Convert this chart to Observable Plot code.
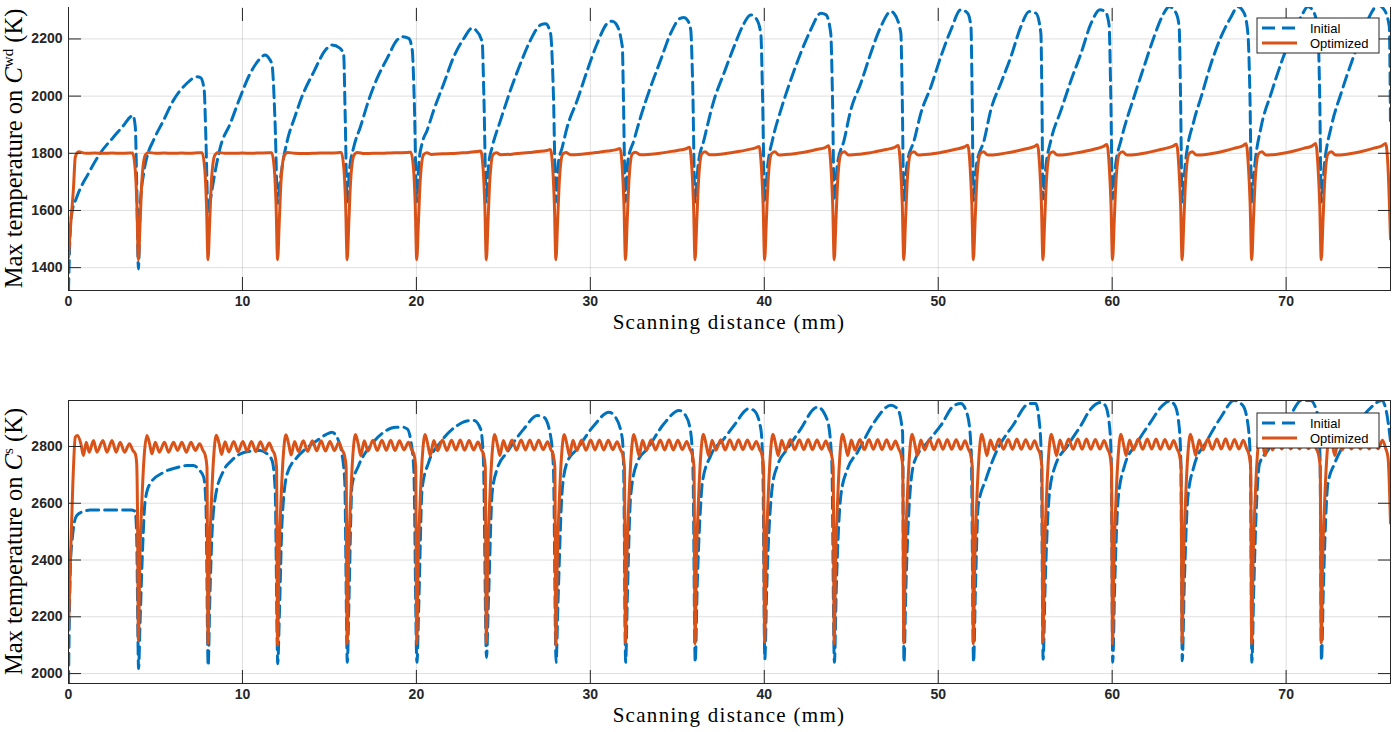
<!DOCTYPE html>
<html><head><meta charset="utf-8">
<script src="https://cdn.jsdelivr.net/npm/d3@7"></script>
<script src="https://cdn.jsdelivr.net/npm/@observablehq/plot@0.6"></script>
<style>
body{margin:0;background:#fff;}
#wrap{width:1393px;height:732px;overflow:hidden;}
svg{display:block;}
</style></head><body><div id="wrap"></div>
<script>
const xTicks = [0,10,20,30,40,50,60,70];
const topYTicks = [1400,1600,1800,2000,2200];
const botYTicks = [2000,2200,2400,2600,2800];
const seriesNames = ["Initial","Optimized"];
const xLabel = "Scanning distance (mm)";

// Top panel: max temperature on C^wd (K)
const topInitial = [
[0,1320],[0.08,1500],[0.19,1590],[0.48,1647],[1.15,1730],[1.82,1800],[2.59,1857],[3.2,1900],[3.55,1927],[3.7,1933],[3.84,1892],[3.92,1700],[4.02,1395],
[4.12,1612],[4.32,1730],[4.51,1787],[4.89,1846],[5.47,1916],[6.04,1986],[6.81,2045],[7.39,2068],[7.6,2064],[7.8,2021],[7.9,1850],[8.02,1595],
[8.15,1635],[8.34,1705],[8.73,1822],[9.3,1904],[9.88,1998],[10.45,2080],[11.0,2130],[11.3,2144],[11.55,2130],[11.7,2109],[11.88,1900],[12.02,1625],
[12.12,1680],[12.3,1760],[12.6,1850],[13.0,1925],[13.4,1995],[14.1,2085],[14.77,2161],[15.15,2179],[15.6,2168],[15.82,2144],[15.9,1950],[16.02,1630],
[16.15,1740],[16.4,1822],[16.78,1892],[17.26,1986],[17.74,2062],[18.32,2132],[18.89,2196],[19.18,2208],[19.56,2202],[19.76,2161],[19.88,1980],[20.02,1630],
[20.15,1770],[20.33,1835],[20.62,1881],[21.0,1951],[21.58,2045],[22.15,2138],[22.73,2202],[23.21,2238],[23.4,2232],[23.78,2190],[23.88,2000],[24.02,1630],
[24.15,1760],[24.36,1822],[24.84,1916],[25.41,2021],[25.99,2115],[26.56,2196],[27.14,2249],[27.43,2253],[27.71,2220],[27.88,2000],[28.02,1630],
[28.15,1760],[28.39,1822],[28.67,1892],[29.25,1986],[29.83,2091],[30.4,2185],[30.98,2255],[31.25,2262],[31.45,2255],[31.84,2173],[31.9,2000],[32.02,1630],
[32.15,1770],[32.51,1846],[32.89,1927],[33.47,2033],[34.04,2126],[34.62,2220],[35.19,2273],[35.38,2275],[35.58,2266],[35.77,2232],[35.88,2050],[36.02,1630],
[36.2,1760],[36.53,1846],[37.11,1986],[37.68,2080],[38.26,2173],[38.74,2243],[39.22,2284],[39.51,2273],[39.8,2220],[39.9,2000],[40.02,1635],
[40.2,1760],[40.47,1846],[40.95,1951],[41.52,2056],[42.09,2150],[42.67,2232],[43.25,2290],[43.54,2285],[43.82,2220],[43.92,2000],[44.02,1635],
[44.2,1760],[44.59,1846],[44.97,1951],[45.55,2045],[46.12,2150],[46.7,2243],[47.28,2296],[47.45,2290],[47.85,2220],[47.93,2000],[48.02,1635],
[48.2,1760],[48.62,1846],[49.0,1940],[49.58,2033],[50.15,2138],[50.73,2232],[51.3,2302],[51.69,2290],[51.88,2243],[51.95,2000],[52.02,1635],
[52.2,1760],[52.64,1846],[53.02,1951],[53.6,2045],[54.18,2138],[54.75,2243],[55.23,2296],[55.62,2290],[55.9,2220],[55.96,2000],[56.02,1640],
[56.2,1760],[56.48,1846],[57.06,1951],[57.64,2056],[58.21,2150],[58.79,2255],[59.3,2302],[59.6,2296],[59.82,2250],[59.92,2000],[60.02,1640],
[60.2,1760],[60.51,1846],[61.26,1998],[61.83,2103],[62.41,2208],[62.98,2291],[63.27,2313],[63.67,2291],[63.85,2243],[63.93,2000],[64.02,1630],
[64.2,1760],[64.71,1916],[65.12,1998],[65.69,2115],[66.26,2208],[66.84,2278],[67.22,2313],[67.58,2291],[67.8,2220],[67.92,2000],[68.02,1630],
[68.2,1760],[68.56,1892],[69.14,2010],[69.71,2115],[70.29,2208],[70.86,2278],[71.25,2313],[71.61,2291],[71.83,2220],[71.93,2000],[72.02,1630],
[72.2,1760],[72.59,1892],[73.16,2010],[73.74,2115],[74.31,2208],[74.89,2290],[75.27,2319],[75.64,2302],[75.93,2243],[76.0,1900]
];

const topOptimized = [
[0,1436],[0.1,1530],[0.29,1682],[0.39,1787],[0.58,1805],[1.0,1800],[1.5,1801],[2.0,1800],[2.5,1801],[3.0,1800],[3.5,1801],[3.68,1801],[3.84,1740],[3.93,1625],[4.02,1428],
[4.12,1565],[4.22,1705],[4.41,1793],[4.6,1803],[5.0,1800],[5.5,1801],[6.0,1800],[6.5,1801],[7.0,1800],[7.5,1802],[7.68,1802],[7.84,1740],[7.93,1625],[8.02,1428],
[8.12,1565],[8.22,1705],[8.41,1793],[8.6,1803],[9.0,1800],[9.5,1800],[10.0,1801],[10.5,1800],[11.0,1801],[11.5,1802],[11.68,1802],[11.84,1740],[11.93,1625],[12.02,1428],
[12.12,1565],[12.22,1705],[12.41,1793],[12.6,1803],[13.0,1800],[13.5,1799],[14.0,1800],[14.5,1801],[15.0,1801],[15.5,1802],[15.68,1803],[15.84,1740],[15.93,1625],[16.02,1428],
[16.12,1565],[16.22,1705],[16.41,1793],[16.6,1803],[17.0,1799],[17.5,1800],[18.0,1800],[18.5,1801],[19.0,1802],[19.5,1803],[19.68,1804],[19.84,1742],[19.93,1625],[20.02,1428],
[20.12,1565],[20.22,1705],[20.41,1795],[20.6,1802],[20.85,1796],[21.5,1798],[22.0,1799],[22.5,1801],[23.0,1803],[23.5,1806],[23.7,1808],[23.84,1742],[23.93,1625],[24.02,1428],
[24.12,1565],[24.22,1705],[24.41,1796],[24.6,1802],[24.85,1795],[25.5,1797],[26.0,1800],[26.5,1803],[27.0,1806],[27.5,1810],[27.7,1813],[27.84,1745],[27.93,1625],[28.02,1428],
[28.12,1565],[28.22,1705],[28.41,1797],[28.6,1803],[28.85,1795],[29.5,1797],[30.0,1800],[30.5,1804],[31.0,1808],[31.5,1813],[31.7,1817],[31.84,1745],[31.93,1625],[32.02,1428],
[32.12,1565],[32.22,1705],[32.41,1798],[32.6,1804],[32.85,1795],[33.5,1797],[34.0,1800],[34.5,1805],[35.0,1810],[35.5,1816],[35.7,1821],[35.84,1745],[35.93,1625],[36.02,1428],
[36.12,1565],[36.22,1705],[36.41,1798],[36.6,1805],[36.85,1795],[37.5,1797],[38.0,1801],[38.5,1806],[39.0,1812],[39.5,1819],[39.7,1824],[39.84,1745],[39.93,1625],[40.02,1428],
[40.12,1565],[40.22,1705],[40.41,1798],[40.6,1805],[40.85,1794],[41.5,1797],[42.0,1801],[42.5,1806],[43.0,1813],[43.5,1820],[43.7,1826],[43.84,1745],[43.93,1625],[44.02,1428],
[44.12,1565],[44.22,1705],[44.41,1798],[44.6,1805],[44.85,1794],[45.5,1797],[46.0,1801],[46.5,1807],[47.0,1813],[47.5,1821],[47.7,1827],[47.84,1745],[47.93,1625],[48.02,1428],
[48.12,1565],[48.22,1705],[48.41,1798],[48.6,1805],[48.85,1794],[49.5,1797],[50.0,1801],[50.5,1807],[51.0,1814],[51.5,1822],[51.7,1828],[51.84,1745],[51.93,1625],[52.02,1428],
[52.12,1565],[52.22,1705],[52.41,1798],[52.6,1805],[52.85,1794],[53.5,1797],[54.0,1802],[54.5,1808],[55.0,1815],[55.5,1823],[55.7,1830],[55.84,1745],[55.93,1625],[56.02,1428],
[56.12,1565],[56.22,1705],[56.41,1798],[56.6,1805],[56.85,1794],[57.5,1797],[58.0,1802],[58.5,1808],[59.0,1815],[59.5,1824],[59.7,1831],[59.84,1745],[59.93,1625],[60.02,1428],
[60.12,1565],[60.22,1705],[60.41,1798],[60.6,1805],[60.85,1794],[61.5,1797],[62.0,1802],[62.5,1809],[63.0,1816],[63.5,1825],[63.7,1832],[63.84,1745],[63.93,1625],[64.02,1428],
[64.12,1565],[64.22,1705],[64.41,1798],[64.6,1805],[64.85,1794],[65.5,1797],[66.0,1802],[66.5,1809],[67.0,1817],[67.5,1826],[67.7,1833],[67.84,1745],[67.93,1625],[68.02,1428],
[68.12,1565],[68.22,1705],[68.41,1798],[68.6,1805],[68.85,1794],[69.5,1797],[70.0,1802],[70.5,1809],[71.0,1817],[71.5,1826],[71.7,1834],[71.84,1745],[71.93,1625],[72.02,1428],
[72.12,1565],[72.22,1705],[72.41,1798],[72.6,1805],[72.85,1794],[73.5,1797],[74.0,1802],[74.5,1809],[75.0,1817],[75.5,1826],[75.72,1834],[75.85,1760],[76.0,1500]
];

// Bottom panel: max temperature on C^s (K)
const botInitial = [
[0,1965],[0.05,2200],[0.12,2400],[0.19,2458],[0.3,2520],[0.48,2557],[0.8,2570],[1.25,2576],[2.0,2576],[3.0,2576],[3.6,2576],[3.84,2572],[3.92,2480],[4.03,2018],
[4.1,2150],[4.22,2375],[4.41,2610],[4.7,2670],[5.47,2709],[6.2,2725],[6.81,2733],[7.19,2733],[7.5,2718],[7.77,2692],[7.9,2600],[8.03,2028],
[8.12,2250],[8.25,2493],[8.44,2621],[8.92,2715],[9.4,2752],[9.88,2774],[10.5,2784],[11.03,2786],[11.4,2775],[11.7,2751],[11.88,2650],[12.03,2035],
[12.12,2200],[12.28,2539],[12.57,2704],[13.14,2762],[13.7,2795],[14.29,2821],[14.8,2842],[15.15,2850],[15.44,2832],[15.7,2780],[15.88,2680],[16.03,2040],
[16.12,2250],[16.3,2663],[16.68,2733],[17.36,2803],[18.12,2850],[18.8,2868],[19.2,2868],[19.47,2862],[19.66,2827],[19.85,2720],[20.03,2040],
[20.14,2250],[20.33,2652],[20.71,2745],[21.39,2815],[22.35,2874],[22.9,2890],[23.3,2892],[23.69,2862],[23.85,2760],[24.03,2057],
[24.14,2250],[24.36,2639],[24.65,2722],[25.22,2780],[26.18,2862],[26.95,2909],[27.33,2903],[27.71,2839],[27.88,2720],[28.03,2040],
[28.14,2250],[28.39,2652],[28.67,2745],[29.25,2792],[30.21,2874],[31.07,2921],[31.45,2903],[31.84,2827],[31.92,2700],[32.03,2040],
[32.12,2250],[32.32,2627],[32.7,2745],[33.28,2792],[34.23,2880],[35.1,2927],[35.48,2909],[35.77,2850],[35.9,2720],[36.03,2040],
[36.14,2300],[36.34,2592],[36.44,2674],[36.92,2768],[37.68,2827],[38.26,2874],[39.12,2933],[39.41,2927],[39.8,2862],[39.92,2720],[40.03,2051],
[40.14,2300],[40.47,2663],[40.76,2733],[41.33,2792],[42.1,2862],[42.86,2933],[43.06,2939],[43.63,2892],[43.88,2750],[44.03,2040],
[44.14,2300],[44.4,2627],[44.79,2722],[45.36,2780],[46.32,2886],[47.28,2945],[47.66,2933],[47.95,2850],[48.03,2040],
[48.14,2300],[48.33,2592],[48.62,2745],[49.39,2815],[50.15,2874],[50.92,2945],[51.3,2951],[51.69,2909],[51.9,2780],[52.03,2040],
[52.14,2300],[52.3,2592],[52.75,2686],[53.33,2780],[54.29,2874],[55.24,2951],[55.6,2951],[55.8,2892],[55.93,2760],[56.03,2051],
[56.14,2300],[56.38,2627],[56.67,2722],[57.44,2803],[58.2,2874],[58.78,2933],[59.35,2955],[59.6,2945],[59.85,2870],[59.95,2740],[60.03,2040],
[60.14,2300],[60.35,2620],[60.7,2730],[61.4,2810],[62.2,2885],[62.9,2945],[63.3,2960],[63.6,2945],[63.85,2870],[63.95,2740],[64.03,2045],
[64.14,2300],[64.35,2620],[64.7,2730],[65.4,2815],[66.25,2903],[67.0,2962],[67.5,2945],[67.8,2880],[67.95,2740],[68.03,2040],
[68.14,2300],[68.3,2600],[68.47,2739],[68.95,2786],[69.5,2845],[70.29,2915],[70.86,2962],[71.4,2962],[71.8,2915],[71.95,2760],[72.03,2045],
[72.14,2300],[72.4,2669],[72.78,2739],[73.35,2810],[74.1,2880],[74.9,2939],[75.5,2962],[75.75,2927],[76.0,2820]
];

const botOptimized = [
[0,2152],[0.1,2375],[0.25,2669],[0.39,2833],[0.52,2839],[0.71,2810],[0.86,2768],[1.02,2815],[1.19,2780],[1.44,2821],[1.63,2780],[1.98,2821],[2.21,2780],[2.5,2821],[2.74,2780],[2.97,2815],[3.22,2780],[3.51,2810],[3.7,2786],[3.84,2774],[3.92,2740],[3.97,2550],[4.02,2116],
[4.1,2400],[4.22,2610],[4.36,2774],[4.51,2839],[4.66,2810],[4.8,2774],[4.99,2815],[5.22,2780],[5.52,2815],[5.75,2780],[6.04,2815],[6.27,2786],[6.52,2815],[6.77,2780],[7.04,2815],[7.29,2786],[7.54,2810],[7.73,2786],[7.86,2770],[7.96,2727],[8.02,2105],
[8.1,2400],[8.22,2610],[8.36,2776],[8.5,2840],[8.66,2810],[8.8,2772],[9.0,2817],[9.22,2781],[9.5,2818],[9.75,2782],[10.02,2818],[10.27,2784],[10.52,2818],[10.77,2782],[11.03,2817],[11.29,2785],[11.54,2812],[11.73,2786],[11.86,2770],[11.96,2727],[12.02,2100],
[12.1,2400],[12.22,2615],[12.36,2778],[12.5,2841],[12.66,2808],[12.8,2770],[13.0,2818],[13.22,2782],[13.5,2820],[13.75,2783],[14.02,2820],[14.27,2785],[14.52,2820],[14.77,2784],[15.03,2818],[15.29,2786],[15.54,2814],[15.73,2787],[15.86,2770],[15.96,2727],[16.02,2105],
[16.1,2400],[16.22,2615],[16.36,2780],[16.5,2842],[16.66,2808],[16.8,2768],[17.0,2820],[17.22,2784],[17.5,2822],[17.75,2786],[18.02,2822],[18.27,2787],[18.52,2822],[18.77,2786],[19.03,2820],[19.29,2788],[19.54,2815],[19.73,2788],[19.86,2772],[19.96,2727],[20.02,2105],
[20.1,2400],[20.22,2615],[20.36,2780],[20.5,2842],[20.66,2806],[20.8,2768],[21.0,2821],[21.22,2785],[21.5,2823],[21.75,2786],[22.02,2822],[22.27,2788],[22.52,2823],[22.77,2787],[23.03,2821],[23.29,2788],[23.54,2816],[23.73,2789],[23.86,2772],[23.96,2727],[24.02,2108],
[24.1,2400],[24.22,2615],[24.36,2780],[24.5,2842],[24.66,2806],[24.8,2768],[25.0,2821],[25.22,2786],[25.5,2823],[25.75,2787],[26.02,2823],[26.27,2788],[26.52,2823],[26.77,2788],[27.03,2822],[27.29,2789],[27.54,2817],[27.73,2789],[27.86,2772],[27.96,2727],[28.02,2100],
[28.1,2400],[28.22,2615],[28.36,2780],[28.5,2842],[28.66,2806],[28.8,2768],[29.0,2822],[29.22,2786],[29.5,2823],[29.75,2787],[30.02,2823],[30.27,2788],[30.52,2823],[30.77,2788],[31.03,2822],[31.29,2789],[31.54,2817],[31.73,2789],[31.86,2772],[31.96,2727],[32.02,2108],
[32.1,2400],[32.22,2615],[32.36,2780],[32.5,2842],[32.66,2806],[32.8,2768],[33.0,2822],[33.22,2786],[33.5,2824],[33.75,2788],[34.02,2823],[34.27,2788],[34.52,2824],[34.77,2788],[35.03,2822],[35.29,2789],[35.54,2818],[35.73,2790],[35.86,2772],[35.96,2727],[36.02,2105],
[36.1,2400],[36.22,2615],[36.36,2780],[36.5,2843],[36.66,2806],[36.8,2768],[37.0,2822],[37.22,2787],[37.5,2824],[37.75,2788],[38.02,2824],[38.27,2789],[38.52,2824],[38.77,2789],[39.03,2823],[39.29,2790],[39.54,2818],[39.73,2790],[39.86,2772],[39.96,2727],[40.02,2110],
[40.1,2400],[40.22,2615],[40.36,2780],[40.5,2843],[40.66,2806],[40.8,2768],[41.0,2822],[41.22,2787],[41.5,2825],[41.75,2789],[42.02,2824],[42.27,2789],[42.52,2825],[42.77,2789],[43.03,2823],[43.29,2790],[43.54,2819],[43.73,2790],[43.86,2772],[43.96,2727],[44.02,2105],
[44.1,2400],[44.22,2615],[44.36,2780],[44.5,2843],[44.66,2806],[44.8,2768],[45.0,2823],[45.22,2787],[45.5,2825],[45.75,2789],[46.02,2825],[46.27,2790],[46.52,2825],[46.77,2789],[47.03,2824],[47.29,2790],[47.54,2819],[47.73,2791],[47.86,2772],[47.96,2727],[48.02,2108],
[48.1,2400],[48.22,2615],[48.36,2780],[48.5,2843],[48.66,2806],[48.8,2768],[49.0,2823],[49.22,2788],[49.5,2825],[49.75,2789],[50.02,2825],[50.27,2790],[50.52,2825],[50.77,2790],[51.03,2824],[51.29,2790],[51.54,2820],[51.73,2791],[51.86,2772],[51.96,2727],[52.02,2105],
[52.1,2400],[52.22,2615],[52.36,2780],[52.5,2843],[52.66,2806],[52.8,2768],[53.0,2823],[53.22,2788],[53.5,2826],[53.75,2790],[54.02,2825],[54.27,2790],[54.52,2826],[54.77,2790],[55.03,2824],[55.29,2791],[55.54,2820],[55.73,2791],[55.86,2772],[55.96,2727],[56.02,2110],
[56.1,2400],[56.22,2615],[56.36,2780],[56.5,2843],[56.66,2806],[56.8,2768],[57.0,2823],[57.22,2788],[57.5,2826],[57.75,2790],[58.02,2826],[58.27,2790],[58.52,2826],[58.77,2790],[59.03,2825],[59.29,2791],[59.54,2821],[59.73,2791],[59.86,2772],[59.96,2727],[60.02,2105],
[60.1,2400],[60.22,2615],[60.36,2780],[60.5,2843],[60.66,2806],[60.8,2768],[61.0,2823],[61.22,2788],[61.5,2826],[61.75,2790],[62.02,2826],[62.27,2791],[62.52,2826],[62.77,2790],[63.03,2825],[63.29,2791],[63.54,2821],[63.73,2791],[63.86,2772],[63.96,2727],[64.02,2108],
[64.1,2400],[64.22,2615],[64.36,2780],[64.5,2843],[64.66,2806],[64.8,2768],[65.0,2823],[65.22,2788],[65.5,2826],[65.75,2790],[66.02,2826],[66.27,2791],[66.52,2827],[66.77,2790],[67.03,2825],[67.29,2791],[67.54,2822],[67.73,2792],[67.86,2772],[67.96,2727],[68.02,2105],
[68.1,2400],[68.22,2615],[68.36,2780],[68.5,2843],[68.66,2806],[68.8,2768],[69.0,2823],[69.22,2788],[69.5,2826],[69.75,2791],[70.02,2826],[70.27,2791],[70.52,2827],[70.77,2791],[71.03,2826],[71.29,2792],[71.54,2822],[71.73,2792],[71.86,2772],[71.96,2727],[72.02,2108],
[72.1,2400],[72.22,2615],[72.36,2780],[72.5,2843],[72.66,2806],[72.8,2768],[73.0,2823],[73.22,2788],[73.5,2826],[73.75,2791],[74.02,2826],[74.27,2791],[74.52,2827],[74.77,2791],[75.03,2826],[75.29,2792],[75.54,2822],[75.73,2792],[75.86,2760],[76.0,2530]
];

const BLUE = "#0072BD", ORANGE = "#D95319", AX = "#262626";

function panel({initial, optimized, yDomain, yTicks, marginTop, marginBottom, height, supText, legendY, frameSides}) {
  const W = 1393, ML = 68, MR = 3;
  const tickStyle = {tickSize: -13, tickFormat: () => "", stroke: AX, label: null};
  const svg = Plot.plot({
    width: W, height, marginLeft: ML, marginRight: MR, marginTop, marginBottom,
    x: {domain: [0, 76]},
    y: {domain: yDomain},
    style: {fontFamily: "'Liberation Sans', Arial, sans-serif", fontSize: "14px", fontWeight: "bold", color: AX, background: "#fff", overflow: "visible"},
    marks: [
      Plot.gridX(xTicks, {stroke: "#000", strokeOpacity: 0.13}),
      Plot.gridY(yTicks, {stroke: "#000", strokeOpacity: 0.13}),
      Plot.line(initial, {x: d => d[0], y: d => d[1], stroke: BLUE, strokeWidth: 3, strokeDasharray: "12,6", curve: "monotone-x", clip: true}),
      Plot.line(optimized, {x: d => d[0], y: d => d[1], stroke: ORANGE, strokeWidth: 3, curve: "monotone-x", clip: true}),
      ...frameSides.map(a => Plot.frame({anchor: a, stroke: AX, strokeWidth: 1})),
      Plot.axisX(xTicks, {anchor: "bottom", ...tickStyle}),
      Plot.axisX(xTicks, {anchor: "top", ...tickStyle}),
      Plot.axisY(yTicks, {anchor: "left", ...tickStyle}),
      Plot.axisY(yTicks, {anchor: "right", ...tickStyle}),
      Plot.axisX(xTicks, {anchor: "bottom", tickSize: 0, tickPadding: 6, label: null, fill: AX, tickFormat: d => String(d)}),
      Plot.axisY(yTicks, {anchor: "left", tickSize: 0, tickPadding: 6, label: null, fill: AX, tickFormat: d => String(d)})
    ]
  });
  const s = d3.select(svg);
  const frameBottom = height - marginBottom;
  const cx = ML + (W - ML - MR) / 2;
  // x-axis title
  s.append("text")
    .attr("x", cx).attr("y", frameBottom + 39)
    .attr("text-anchor", "middle")
    .style("font-family", "'Liberation Serif', 'Times New Roman', serif")
    .style("font-size", "21px").style("font-weight", "normal")
    .style("letter-spacing", "1.3px")
    .attr("fill", "#000")
    .text(xLabel);
  // y-axis title
  const cy = marginTop + (frameBottom - marginTop) / 2;
  const t = s.append("text")
    .attr("transform", `translate(22,${cy}) rotate(-90)`)
    .attr("text-anchor", "middle")
    .style("font-family", "'Liberation Serif', 'Times New Roman', serif")
    .style("font-size", "24.5px").style("font-weight", "normal")
    .attr("fill", "#000");
  t.append("tspan").text("Max temperature on ");
  t.append("tspan").style("font-style", "italic").text("C");
  t.append("tspan").attr("dy", -9).style("font-size", "15px").text(supText);
  t.append("tspan").attr("dy", 9).text(" (K)");
  // legend
  const lx = 1257, lw = 122, lh = 35;
  const g = s.append("g").attr("text-anchor", "start");
  g.append("rect").attr("x", lx).attr("y", legendY).attr("width", lw).attr("height", lh)
    .attr("fill", "#fff").attr("stroke", AX).attr("stroke-width", 1);
  const colors = [BLUE, ORANGE], dashes = ["13,7", null];
  seriesNames.forEach((name, i) => {
    const yy = legendY + 10 + i * 15;
    g.append("line").attr("x1", lx + 5).attr("x2", lx + 40).attr("y1", yy).attr("y2", yy)
      .attr("stroke", colors[i]).attr("stroke-width", 3).attr("stroke-dasharray", dashes[i]);
    g.append("text").attr("x", lx + 53).attr("y", yy).attr("dy", "0.35em")
      .attr("text-anchor", "start")
      .style("font-family", "'Liberation Sans', Arial, sans-serif").style("font-size", "13px")
      .style("font-weight", "normal").attr("fill", "#000").text(name);
  });
  return svg;
}

const wrap = document.getElementById("wrap");
wrap.appendChild(panel({initial: topInitial, optimized: topOptimized, yDomain: [1320, 2310], yTicks: topYTicks,
  height: 366, marginTop: 7, marginBottom: 76, supText: "wd", legendY: 18, frameSides: ["left", "right", "bottom"]}));
wrap.appendChild(panel({initial: botInitial, optimized: botOptimized, yDomain: [1965, 2962], yTicks: botYTicks,
  height: 366, marginTop: 34, marginBottom: 49, supText: "s", legendY: 47, frameSides: ["left", "right", "bottom", "top"]}));
</script></body></html>
